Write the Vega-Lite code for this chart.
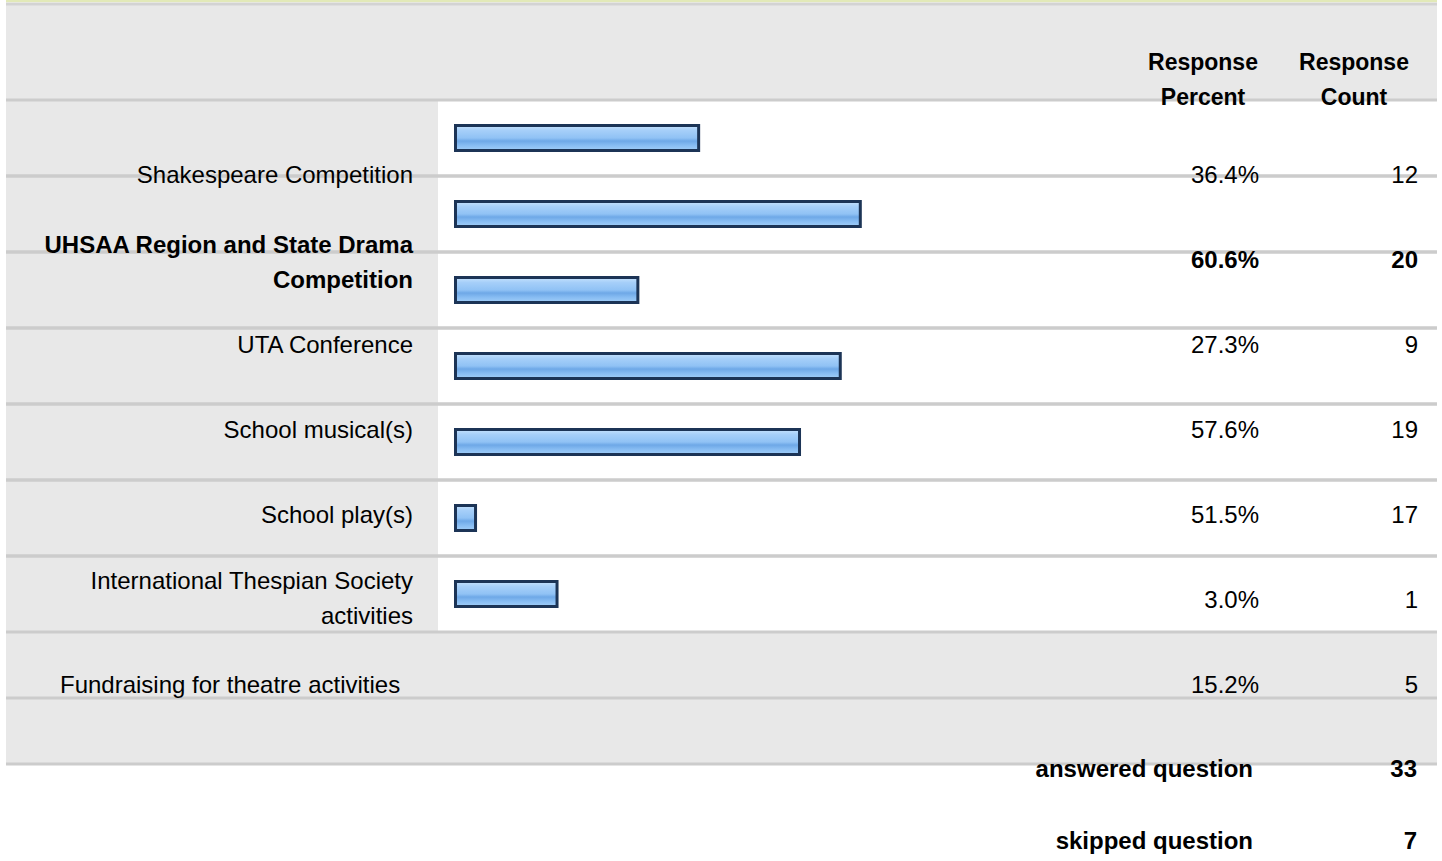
{
  "$schema": "https://vega.github.io/schema/vega-lite/v6.json",
  "width": 1442,
  "height": 861,
  "padding": 0,
  "autosize": {"type": "none"},
  "background": "white",
  "config": {"view": {"stroke": null}, "text": {"font": "Liberation Sans", "fontSize": 24, "color": "#000000"}},
  "datasets": {
    "responses": [
      {"option": "Shakespeare Competition", "share": 0.364, "count": 12},
      {"option": "UHSAA Region and State Drama\nCompetition", "share": 0.606, "count": 20},
      {"option": "UTA Conference", "share": 0.273, "count": 9},
      {"option": "School musical(s)", "share": 0.576, "count": 19},
      {"option": "School play(s)", "share": 0.515, "count": 17},
      {"option": "International Thespian Society\nactivities", "share": 0.03, "count": 1},
      {"option": "Fundraising for theatre activities", "share": 0.152, "count": 5}
    ],
    "footer": [
      {"label": "answered question", "value": 33},
      {"label": "skipped question", "value": 7}
    ],
    "frame": [{"part": "table"}]
  },
  "resolve": {"scale": {"y": "independent"}},
  "layer": [
    {
      "data": {"name": "frame"},
      "mark": {"type": "rect", "fill": "#e8e8e8"},
      "encoding": {
        "x": {"datum": -0.6729, "type": "quantitative", "scale": {"domain": [-0.68189, 1.4768], "nice": false, "zero": false}, "axis": null},
        "x2": {"datum": 1.46931},
        "y": {"datum": -1.7763, "type": "quantitative", "scale": {"domain": [-1.8158, 9.5132], "nice": false, "zero": false, "reverse": true}, "axis": null},
        "y2": {"datum": 8.2368}
      }
    },
    {
      "data": {"name": "responses"},
      "mark": {"type": "rect", "fill": "#ffffff"},
      "encoding": {
        "x": {"datum": -0.0262, "type": "quantitative", "scale": {"domain": [-0.68189, 1.4768], "nice": false, "zero": false}, "axis": null},
        "x2": {"datum": 1.46931},
        "y": {"field": "option", "type": "nominal", "sort": null, "scale": {"type": "band", "domain": ["Shakespeare Competition", "UHSAA Region and State Drama\nCompetition", "UTA Conference", "School musical(s)", "School play(s)", "International Thespian Society\nactivities", "Fundraising for theatre activities"], "range": [100, 632], "paddingInner": 0, "paddingOuter": 0}, "axis": null}
      }
    },
    {
      "data": {"name": "frame"},
      "mark": {"type": "rule", "stroke": "#e2e9b8", "strokeWidth": 2.5},
      "encoding": {
        "x": {"datum": -0.6729, "type": "quantitative", "scale": {"domain": [-0.68189, 1.4768], "nice": false, "zero": false}, "axis": null},
        "x2": {"datum": 1.46931},
        "y": {"datum": -1.80263, "type": "quantitative", "scale": {"domain": [-1.8158, 9.5132], "nice": false, "zero": false, "reverse": true}, "axis": null}
      }
    },
    {
      "data": {"name": "frame"},
      "mark": {"type": "rule", "stroke": "#d3d3d3", "strokeWidth": 3},
      "encoding": {
        "x": {"datum": -0.6729, "type": "quantitative", "scale": {"domain": [-0.68189, 1.4768], "nice": false, "zero": false}, "axis": null},
        "x2": {"datum": 1.46931},
        "y": {"datum": -1.7631, "type": "quantitative", "scale": {"domain": [-1.8158, 9.5132], "nice": false, "zero": false, "reverse": true}, "axis": null}
      }
    },
    {
      "data": {"name": "responses"},
      "mark": {"type": "rule", "stroke": "#cccccc", "strokeWidth": 3},
      "encoding": {
        "x": {"datum": -0.6729, "type": "quantitative", "scale": {"domain": [-0.68189, 1.4768], "nice": false, "zero": false}, "axis": null},
        "x2": {"datum": 1.46931},
        "y": {"field": "option", "type": "nominal", "bandPosition": 0, "sort": null, "scale": {"type": "band", "domain": ["Shakespeare Competition", "UHSAA Region and State Drama\nCompetition", "UTA Conference", "School musical(s)", "School play(s)", "International Thespian Society\nactivities", "Fundraising for theatre activities"], "range": [100, 632], "paddingInner": 0, "paddingOuter": 0}, "axis": null}
      }
    },
    {
      "data": {"name": "responses"},
      "mark": {"type": "rule", "stroke": "#cccccc", "strokeWidth": 3},
      "encoding": {
        "x": {"datum": -0.6729, "type": "quantitative", "scale": {"domain": [-0.68189, 1.4768], "nice": false, "zero": false}, "axis": null},
        "x2": {"datum": 1.46931},
        "y": {"field": "option", "type": "nominal", "bandPosition": 1, "sort": null, "scale": {"type": "band", "domain": ["Shakespeare Competition", "UHSAA Region and State Drama\nCompetition", "UTA Conference", "School musical(s)", "School play(s)", "International Thespian Society\nactivities", "Fundraising for theatre activities"], "range": [100, 632], "paddingInner": 0, "paddingOuter": 0}, "axis": null}
      }
    },
    {
      "data": {"values": [{"line": "fundraising middle", "u": 7.3684}, {"line": "table bottom", "u": 8.2368}]},
      "mark": {"type": "rule", "stroke": "#cccccc", "strokeWidth": 3},
      "encoding": {
        "x": {"datum": -0.6729, "type": "quantitative", "scale": {"domain": [-0.68189, 1.4768], "nice": false, "zero": false}, "axis": null},
        "x2": {"datum": 1.46931},
        "y": {"field": "u", "type": "quantitative", "scale": {"domain": [-1.8158, 9.5132], "nice": false, "zero": false, "reverse": true}, "axis": null}
      }
    },
    {
      "data": {"name": "responses"},
      "mark": {
        "type": "bar",
        "size": 25,
        "stroke": "#1c3456",
        "strokeWidth": 3,
        "fill": {"gradient": "linear", "x1": 0, "y1": 0, "x2": 0, "y2": 1, "stops": [
          {"offset": 0, "color": "#c6e2fc"},
          {"offset": 0.2, "color": "#a6cff9"},
          {"offset": 0.5, "color": "#90c2f5"},
          {"offset": 0.62, "color": "#6ea8e7"},
          {"offset": 0.8, "color": "#88bdf3"},
          {"offset": 1, "color": "#a2cef8"}
        ]}
      },
      "encoding": {
        "x": {"field": "share", "type": "quantitative", "scale": {"domain": [-0.68189, 1.4768], "nice": false, "zero": false}, "axis": null},
        "x2": {"datum": 0},
        "y": {"field": "option", "type": "nominal", "sort": null, "scale": {"type": "band", "domain": ["Shakespeare Competition", "UHSAA Region and State Drama\nCompetition", "UTA Conference", "School musical(s)", "School play(s)", "International Thespian Society\nactivities", "Fundraising for theatre activities"], "range": [100, 632], "paddingInner": 0, "paddingOuter": 0}, "axis": null}
      }
    },
    {
      "data": {"values": [{"heading": "Response\nPercent"}]},
      "mark": {"type": "text", "fontSize": 23, "fontWeight": "bold", "align": "center", "baseline": "middle", "lineBreak": "\n", "lineHeight": 35},
      "encoding": {
        "text": {"field": "heading"},
        "x": {"datum": 1.11901, "type": "quantitative", "scale": {"domain": [-0.68189, 1.4768], "nice": false, "zero": false}, "axis": null},
        "y": {"datum": -0.98684, "type": "quantitative", "scale": {"domain": [-1.8158, 9.5132], "nice": false, "zero": false, "reverse": true}, "axis": null}
      }
    },
    {
      "data": {"values": [{"heading": "Response\nCount"}]},
      "mark": {"type": "text", "fontSize": 23, "fontWeight": "bold", "align": "center", "baseline": "middle", "lineBreak": "\n", "lineHeight": 35},
      "encoding": {
        "text": {"field": "heading"},
        "x": {"datum": 1.34506, "type": "quantitative", "scale": {"domain": [-0.68189, 1.4768], "nice": false, "zero": false}, "axis": null},
        "y": {"datum": -0.98684, "type": "quantitative", "scale": {"domain": [-1.8158, 9.5132], "nice": false, "zero": false, "reverse": true}, "axis": null}
      }
    },
    {
      "data": {"name": "responses"},
      "transform": [{"filter": {"not": {"field": "option", "oneOf": ["UHSAA Region and State Drama\nCompetition", "International Thespian Society\nactivities", "Fundraising for theatre activities"]}}}],
      "mark": {"type": "text", "align": "right", "baseline": "middle"},
      "encoding": {
        "text": {"field": "option"},
        "x": {"datum": -0.06362, "type": "quantitative", "scale": {"domain": [-0.68189, 1.4768], "nice": false, "zero": false}, "axis": null},
        "y": {"field": "option", "type": "nominal", "sort": null, "scale": {"type": "point", "domain": ["Shakespeare Competition", "UHSAA Region and State Drama\nCompetition", "UTA Conference", "School musical(s)", "School play(s)", "International Thespian Society\nactivities", "Fundraising for theatre activities"], "range": [176, 686], "padding": 0}, "axis": null}
      }
    },
    {
      "data": {"name": "responses"},
      "transform": [{"filter": {"field": "option", "oneOf": ["International Thespian Society\nactivities"]}}],
      "mark": {"type": "text", "align": "right", "baseline": "middle", "lineBreak": "\n", "lineHeight": 35, "dy": -19},
      "encoding": {
        "text": {"field": "option"},
        "x": {"datum": -0.06362, "type": "quantitative", "scale": {"domain": [-0.68189, 1.4768], "nice": false, "zero": false}, "axis": null},
        "y": {"field": "option", "type": "nominal", "sort": null, "scale": {"type": "point", "domain": ["Shakespeare Competition", "UHSAA Region and State Drama\nCompetition", "UTA Conference", "School musical(s)", "School play(s)", "International Thespian Society\nactivities", "Fundraising for theatre activities"], "range": [176, 686], "padding": 0}, "axis": null}
      }
    },
    {
      "data": {"name": "responses"},
      "transform": [{"filter": {"field": "option", "oneOf": ["UHSAA Region and State Drama\nCompetition"]}}],
      "mark": {"type": "text", "fontWeight": "bold", "align": "right", "baseline": "middle", "lineBreak": "\n", "lineHeight": 35, "dy": -15},
      "encoding": {
        "text": {"field": "option"},
        "x": {"datum": -0.06362, "type": "quantitative", "scale": {"domain": [-0.68189, 1.4768], "nice": false, "zero": false}, "axis": null},
        "y": {"field": "option", "type": "nominal", "sort": null, "scale": {"type": "point", "domain": ["Shakespeare Competition", "UHSAA Region and State Drama\nCompetition", "UTA Conference", "School musical(s)", "School play(s)", "International Thespian Society\nactivities", "Fundraising for theatre activities"], "range": [176, 686], "padding": 0}, "axis": null}
      }
    },
    {
      "data": {"name": "responses"},
      "transform": [{"filter": {"field": "option", "oneOf": ["Fundraising for theatre activities"]}}],
      "mark": {"type": "text", "align": "left", "baseline": "middle"},
      "encoding": {
        "text": {"field": "option"},
        "x": {"datum": -0.59207, "type": "quantitative", "scale": {"domain": [-0.68189, 1.4768], "nice": false, "zero": false}, "axis": null},
        "y": {"field": "option", "type": "nominal", "sort": null, "scale": {"type": "point", "domain": ["Shakespeare Competition", "UHSAA Region and State Drama\nCompetition", "UTA Conference", "School musical(s)", "School play(s)", "International Thespian Society\nactivities", "Fundraising for theatre activities"], "range": [176, 686], "padding": 0}, "axis": null}
      }
    },
    {
      "data": {"name": "responses"},
      "transform": [{"filter": {"not": {"field": "option", "oneOf": ["UHSAA Region and State Drama\nCompetition"]}}}],
      "mark": {"type": "text", "align": "right", "baseline": "middle"},
      "encoding": {
        "text": {"field": "share", "type": "quantitative", "format": ".1%"},
        "x": {"datum": 1.20284, "type": "quantitative", "scale": {"domain": [-0.68189, 1.4768], "nice": false, "zero": false}, "axis": null},
        "y": {"field": "option", "type": "nominal", "sort": null, "scale": {"type": "point", "domain": ["Shakespeare Competition", "UHSAA Region and State Drama\nCompetition", "UTA Conference", "School musical(s)", "School play(s)", "International Thespian Society\nactivities", "Fundraising for theatre activities"], "range": [176, 686], "padding": 0}, "axis": null}
      }
    },
    {
      "data": {"name": "responses"},
      "transform": [{"filter": {"field": "option", "oneOf": ["UHSAA Region and State Drama\nCompetition"]}}],
      "mark": {"type": "text", "fontWeight": "bold", "align": "right", "baseline": "middle"},
      "encoding": {
        "text": {"field": "share", "type": "quantitative", "format": ".1%"},
        "x": {"datum": 1.20284, "type": "quantitative", "scale": {"domain": [-0.68189, 1.4768], "nice": false, "zero": false}, "axis": null},
        "y": {"field": "option", "type": "nominal", "sort": null, "scale": {"type": "point", "domain": ["Shakespeare Competition", "UHSAA Region and State Drama\nCompetition", "UTA Conference", "School musical(s)", "School play(s)", "International Thespian Society\nactivities", "Fundraising for theatre activities"], "range": [176, 686], "padding": 0}, "axis": null}
      }
    },
    {
      "data": {"name": "responses"},
      "transform": [{"filter": {"not": {"field": "option", "oneOf": ["UHSAA Region and State Drama\nCompetition"]}}}],
      "mark": {"type": "text", "align": "right", "baseline": "middle"},
      "encoding": {
        "text": {"field": "count", "type": "quantitative", "format": "d"},
        "x": {"datum": 1.44087, "type": "quantitative", "scale": {"domain": [-0.68189, 1.4768], "nice": false, "zero": false}, "axis": null},
        "y": {"field": "option", "type": "nominal", "sort": null, "scale": {"type": "point", "domain": ["Shakespeare Competition", "UHSAA Region and State Drama\nCompetition", "UTA Conference", "School musical(s)", "School play(s)", "International Thespian Society\nactivities", "Fundraising for theatre activities"], "range": [176, 686], "padding": 0}, "axis": null}
      }
    },
    {
      "data": {"name": "responses"},
      "transform": [{"filter": {"field": "option", "oneOf": ["UHSAA Region and State Drama\nCompetition"]}}],
      "mark": {"type": "text", "fontWeight": "bold", "align": "right", "baseline": "middle"},
      "encoding": {
        "text": {"field": "count", "type": "quantitative", "format": "d"},
        "x": {"datum": 1.44087, "type": "quantitative", "scale": {"domain": [-0.68189, 1.4768], "nice": false, "zero": false}, "axis": null},
        "y": {"field": "option", "type": "nominal", "sort": null, "scale": {"type": "point", "domain": ["Shakespeare Competition", "UHSAA Region and State Drama\nCompetition", "UTA Conference", "School musical(s)", "School play(s)", "International Thespian Society\nactivities", "Fundraising for theatre activities"], "range": [176, 686], "padding": 0}, "axis": null}
      }
    },
    {
      "data": {"name": "footer"},
      "mark": {"type": "text", "fontWeight": "bold", "align": "right", "baseline": "middle"},
      "encoding": {
        "text": {"field": "label"},
        "x": {"datum": 1.19386, "type": "quantitative", "scale": {"domain": [-0.68189, 1.4768], "nice": false, "zero": false}, "axis": null},
        "y": {"field": "label", "type": "nominal", "sort": null, "scale": {"type": "point", "domain": ["answered question", "skipped question"], "range": [770, 842], "padding": 0}, "axis": null}
      }
    },
    {
      "data": {"name": "footer"},
      "mark": {"type": "text", "fontWeight": "bold", "align": "right", "baseline": "middle"},
      "encoding": {
        "text": {"field": "value", "type": "quantitative", "format": "d"},
        "x": {"datum": 1.43937, "type": "quantitative", "scale": {"domain": [-0.68189, 1.4768], "nice": false, "zero": false}, "axis": null},
        "y": {"field": "label", "type": "nominal", "sort": null, "scale": {"type": "point", "domain": ["answered question", "skipped question"], "range": [770, 842], "padding": 0}, "axis": null}
      }
    }
  ]
}
